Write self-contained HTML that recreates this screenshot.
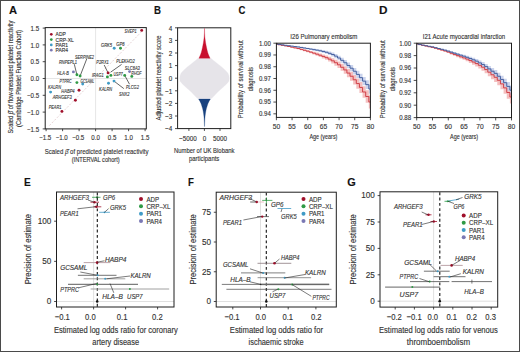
<!DOCTYPE html>
<html><head><meta charset="utf-8"><style>
html,body{margin:0;padding:0;background:#fff;}
body{width:520px;height:352px;overflow:hidden;position:relative;}
svg{position:absolute;left:0;top:0;display:block;font-family:"Liberation Sans",sans-serif;}
text{stroke:#3a3a3a;stroke-width:0.14px;}
.frame{position:absolute;left:0;top:0;width:518px;height:350px;border:1px solid #4a4a4a;}
</style></head><body>
<svg width="520" height="352" viewBox="0 0 520 352" fill="#303030">
<text x="9.00" y="13.70" font-size="11.3" font-weight="bold" fill="#111" textLength="8.10" lengthAdjust="spacingAndGlyphs">A</text>
<text x="154.00" y="14.00" font-size="11.3" font-weight="bold" fill="#111" textLength="7.00" lengthAdjust="spacingAndGlyphs">B</text>
<text x="238.50" y="14.00" font-size="11.3" font-weight="bold" fill="#111" textLength="6.90" lengthAdjust="spacingAndGlyphs">C</text>
<text x="379.00" y="13.80" font-size="11.3" font-weight="bold" fill="#111" textLength="8.50" lengthAdjust="spacingAndGlyphs">D</text>
<text x="23.90" y="185.90" font-size="11.3" font-weight="bold" fill="#111" textLength="6.80" lengthAdjust="spacingAndGlyphs">E</text>
<text x="188.00" y="185.70" font-size="11.3" font-weight="bold" fill="#111" textLength="5.90" lengthAdjust="spacingAndGlyphs">F</text>
<text x="347.20" y="185.80" font-size="11.3" font-weight="bold" fill="#111" textLength="8.50" lengthAdjust="spacingAndGlyphs">G</text>
<line x1="45.20" y1="78.50" x2="146.30" y2="78.50" stroke="#d4d4d4" stroke-width="0.6" />
<line x1="95.60" y1="27.60" x2="95.60" y2="128.90" stroke="#d4d4d4" stroke-width="0.6" />
<line x1="49.40" y1="125.54" x2="141.14" y2="32.13" stroke="#e0cbce" stroke-width="0.85" stroke-dasharray="2 1.6"/>
<rect x="45.20" y="27.60" width="101.10" height="101.30" fill="none" stroke="#1e1e1e" stroke-width="1.0"/>
<line x1="42.70" y1="28.10" x2="45.20" y2="28.10" stroke="#1e1e1e" stroke-width="0.8" />
<text x="39.10" y="30.87" font-size="7.50" text-anchor="end" textLength="8.55" lengthAdjust="spacingAndGlyphs">1.5</text>
<line x1="42.70" y1="44.90" x2="45.20" y2="44.90" stroke="#1e1e1e" stroke-width="0.8" />
<text x="39.10" y="47.67" font-size="7.50" text-anchor="end" textLength="8.55" lengthAdjust="spacingAndGlyphs">1.0</text>
<line x1="42.70" y1="61.70" x2="45.20" y2="61.70" stroke="#1e1e1e" stroke-width="0.8" />
<text x="39.10" y="64.47" font-size="7.50" text-anchor="end" textLength="8.55" lengthAdjust="spacingAndGlyphs">0.5</text>
<line x1="42.70" y1="78.50" x2="45.20" y2="78.50" stroke="#1e1e1e" stroke-width="0.8" />
<text x="39.10" y="81.27" font-size="7.50" text-anchor="end" textLength="8.55" lengthAdjust="spacingAndGlyphs">0.0</text>
<line x1="42.70" y1="95.30" x2="45.20" y2="95.30" stroke="#1e1e1e" stroke-width="0.8" />
<text x="39.10" y="98.07" font-size="7.50" text-anchor="end" textLength="12.14" lengthAdjust="spacingAndGlyphs">−0.5</text>
<line x1="42.70" y1="112.10" x2="45.20" y2="112.10" stroke="#1e1e1e" stroke-width="0.8" />
<text x="39.10" y="114.87" font-size="7.50" text-anchor="end" textLength="12.14" lengthAdjust="spacingAndGlyphs">−1.0</text>
<line x1="42.70" y1="128.90" x2="45.20" y2="128.90" stroke="#1e1e1e" stroke-width="0.8" />
<text x="39.10" y="131.68" font-size="7.50" text-anchor="end" textLength="12.14" lengthAdjust="spacingAndGlyphs">−1.5</text>
<line x1="46.10" y1="128.90" x2="46.10" y2="131.20" stroke="#1e1e1e" stroke-width="0.8" />
<text x="45.20" y="140.38" font-size="7.50" text-anchor="middle" textLength="12.14" lengthAdjust="spacingAndGlyphs">−1.5</text>
<line x1="62.60" y1="128.90" x2="62.60" y2="131.20" stroke="#1e1e1e" stroke-width="0.8" />
<text x="61.70" y="140.38" font-size="7.50" text-anchor="middle" textLength="12.14" lengthAdjust="spacingAndGlyphs">−1.0</text>
<line x1="79.10" y1="128.90" x2="79.10" y2="131.20" stroke="#1e1e1e" stroke-width="0.8" />
<text x="78.20" y="140.38" font-size="7.50" text-anchor="middle" textLength="12.14" lengthAdjust="spacingAndGlyphs">−0.5</text>
<line x1="95.60" y1="128.90" x2="95.60" y2="131.20" stroke="#1e1e1e" stroke-width="0.8" />
<text x="95.60" y="140.38" font-size="7.50" text-anchor="middle" textLength="8.55" lengthAdjust="spacingAndGlyphs">0.0</text>
<line x1="112.10" y1="128.90" x2="112.10" y2="131.20" stroke="#1e1e1e" stroke-width="0.8" />
<text x="112.10" y="140.38" font-size="7.50" text-anchor="middle" textLength="8.55" lengthAdjust="spacingAndGlyphs">0.5</text>
<line x1="128.60" y1="128.90" x2="128.60" y2="131.20" stroke="#1e1e1e" stroke-width="0.8" />
<text x="128.60" y="140.38" font-size="7.50" text-anchor="middle" textLength="8.55" lengthAdjust="spacingAndGlyphs">1.0</text>
<line x1="145.10" y1="128.90" x2="145.10" y2="131.20" stroke="#1e1e1e" stroke-width="0.8" />
<text x="145.10" y="140.38" font-size="7.50" text-anchor="middle" textLength="8.55" lengthAdjust="spacingAndGlyphs">1.5</text>
<text x="44.80" y="153.74" font-size="8.00" textLength="103.70" lengthAdjust="spacingAndGlyphs">Scaled <tspan font-style="italic">β̂</tspan> of predicted platelet reactivity</text>
<text x="71.70" y="162.46" font-size="7.47" textLength="48.00" lengthAdjust="spacingAndGlyphs">(INTERVAL cohort)</text>
<text transform="rotate(-90 10.60 77.00)" x="10.60" y="79.52" font-size="7.62" text-anchor="middle" textLength="113.00" lengthAdjust="spacingAndGlyphs">Scaled <tspan font-style="italic">β̂</tspan> of flow-measured platelet reactivity</text>
<text transform="rotate(-90 18.60 78.50)" x="18.60" y="81.05" font-size="7.73" text-anchor="middle" textLength="97.00" lengthAdjust="spacingAndGlyphs">(Cambridge Platelet Function Cohort)</text>
<circle cx="51.30" cy="34.30" r="1.35" fill="#a00f2a"/>
<text x="55.60" y="36.35" font-size="5.60" textLength="10.13" lengthAdjust="spacingAndGlyphs">ADP</text>
<circle cx="51.30" cy="39.60" r="1.35" fill="#2f9a45"/>
<text x="55.60" y="41.65" font-size="5.60" textLength="18.07" lengthAdjust="spacingAndGlyphs">CRP-XL</text>
<circle cx="51.30" cy="44.90" r="1.35" fill="#3f9bc6"/>
<text x="55.60" y="46.95" font-size="5.60" textLength="12.51" lengthAdjust="spacingAndGlyphs">PAR1</text>
<circle cx="51.30" cy="50.20" r="1.35" fill="#7a78b4"/>
<text x="55.60" y="52.25" font-size="5.60" textLength="12.51" lengthAdjust="spacingAndGlyphs">PAR4</text>
<line x1="74.30" y1="64.20" x2="76.90" y2="74.80" stroke="#222" stroke-width="0.7" />
<line x1="86.70" y1="59.00" x2="80.10" y2="76.00" stroke="#222" stroke-width="0.7" />
<line x1="104.20" y1="65.00" x2="107.90" y2="72.50" stroke="#222" stroke-width="0.7" />
<line x1="121.60" y1="64.40" x2="110.60" y2="72.20" stroke="#222" stroke-width="0.7" />
<line x1="124.70" y1="75.40" x2="129.50" y2="84.20" stroke="#222" stroke-width="0.7" />
<line x1="114.00" y1="81.10" x2="123.80" y2="88.60" stroke="#222" stroke-width="0.7" />
<circle cx="141.70" cy="30.40" r="1.45" fill="#a00f2a"/>
<circle cx="114.20" cy="48.30" r="1.45" fill="#3f9bc6"/>
<circle cx="120.50" cy="48.30" r="1.45" fill="#2f9a45"/>
<circle cx="73.40" cy="71.90" r="1.45" fill="#7a78b4"/>
<circle cx="76.90" cy="74.80" r="1.45" fill="#2f9a45"/>
<circle cx="80.10" cy="76.00" r="1.45" fill="#2f9a45"/>
<circle cx="76.90" cy="82.60" r="1.45" fill="#2f9a45"/>
<circle cx="82.70" cy="84.00" r="1.45" fill="#3f9bc6"/>
<circle cx="50.60" cy="92.10" r="1.45" fill="#3f9bc6"/>
<circle cx="79.00" cy="90.20" r="1.45" fill="#a00f2a"/>
<circle cx="75.40" cy="100.20" r="1.45" fill="#a00f2a"/>
<circle cx="61.90" cy="111.40" r="1.45" fill="#a00f2a"/>
<circle cx="108.10" cy="72.90" r="1.45" fill="#a00f2a"/>
<circle cx="107.40" cy="76.90" r="1.45" fill="#2f9a45"/>
<circle cx="110.90" cy="75.40" r="1.45" fill="#2f9a45"/>
<circle cx="108.50" cy="83.20" r="1.45" fill="#3f9bc6"/>
<circle cx="114.00" cy="81.10" r="1.45" fill="#3f9bc6"/>
<circle cx="124.70" cy="75.40" r="1.45" fill="#2f9a45"/>
<circle cx="131.80" cy="76.40" r="1.45" fill="#2f9a45"/>
<circle cx="129.60" cy="71.60" r="1.45" fill="#7a78b4"/>
<text x="124.60" y="33.42" font-size="5.20" font-style="italic" fill="#3a3a3a" textLength="12.10" lengthAdjust="spacingAndGlyphs">SVEP1</text>
<text x="101.00" y="46.82" font-size="5.20" font-style="italic" fill="#3a3a3a" textLength="11.00" lengthAdjust="spacingAndGlyphs">GRK5</text>
<text x="116.30" y="46.42" font-size="5.20" font-style="italic" fill="#3a3a3a" textLength="8.30" lengthAdjust="spacingAndGlyphs">GP6</text>
<text x="75.00" y="58.52" font-size="5.20" font-style="italic" fill="#3a3a3a" textLength="19.00" lengthAdjust="spacingAndGlyphs">SERPINE2</text>
<text x="59.00" y="63.72" font-size="5.20" font-style="italic" fill="#3a3a3a" textLength="18.00" lengthAdjust="spacingAndGlyphs">RNPEPL1</text>
<text x="57.30" y="75.22" font-size="5.20" font-style="italic" fill="#3a3a3a" textLength="11.50" lengthAdjust="spacingAndGlyphs">HLA-B</text>
<text x="59.60" y="83.22" font-size="5.20" font-style="italic" fill="#3a3a3a" textLength="12.10" lengthAdjust="spacingAndGlyphs">PTPRC</text>
<text x="80.50" y="82.82" font-size="5.20" font-style="italic" fill="#3a3a3a" textLength="13.50" lengthAdjust="spacingAndGlyphs">GCSAML</text>
<text x="48.00" y="88.72" font-size="5.20" font-style="italic" fill="#3a3a3a" textLength="13.00" lengthAdjust="spacingAndGlyphs">KALRN</text>
<text x="61.30" y="92.62" font-size="5.20" font-style="italic" fill="#3a3a3a" textLength="13.30" lengthAdjust="spacingAndGlyphs">HABP4</text>
<text x="52.70" y="98.92" font-size="5.20" font-style="italic" fill="#3a3a3a" textLength="19.00" lengthAdjust="spacingAndGlyphs">ARHGEF3</text>
<text x="48.70" y="108.72" font-size="5.20" font-style="italic" fill="#3a3a3a" textLength="12.60" lengthAdjust="spacingAndGlyphs">PEAR1</text>
<text x="96.30" y="63.72" font-size="5.20" font-style="italic" fill="#3a3a3a" textLength="12.50" lengthAdjust="spacingAndGlyphs">P2RX1</text>
<text x="116.30" y="63.42" font-size="5.20" font-style="italic" fill="#3a3a3a" textLength="18.40" lengthAdjust="spacingAndGlyphs">PLEKHO2</text>
<text x="92.00" y="76.72" font-size="5.20" font-style="italic" fill="#3a3a3a" textLength="11.60" lengthAdjust="spacingAndGlyphs">IRAG1</text>
<text x="113.60" y="75.72" font-size="5.20" font-style="italic" fill="#3a3a3a" textLength="9.00" lengthAdjust="spacingAndGlyphs">USP7</text>
<text x="124.70" y="69.52" font-size="5.20" font-style="italic" fill="#3a3a3a" textLength="15.20" lengthAdjust="spacingAndGlyphs">SLC6A3</text>
<text x="131.30" y="74.92" font-size="5.20" font-style="italic" fill="#3a3a3a" textLength="10.30" lengthAdjust="spacingAndGlyphs">RHOF</text>
<text x="126.00" y="89.32" font-size="5.20" font-style="italic" fill="#3a3a3a" textLength="12.80" lengthAdjust="spacingAndGlyphs">PLCG2</text>
<text x="99.00" y="90.72" font-size="5.20" font-style="italic" fill="#3a3a3a" textLength="13.20" lengthAdjust="spacingAndGlyphs">KALRN</text>
<text x="119.10" y="95.52" font-size="5.20" font-style="italic" fill="#3a3a3a" textLength="10.40" lengthAdjust="spacingAndGlyphs">SNX2</text>
<rect x="177.60" y="27.80" width="53.20" height="100.80" fill="none" stroke="#1e1e1e" stroke-width="1.0"/>
<line x1="175.00" y1="128.60" x2="177.60" y2="128.60" stroke="#1e1e1e" stroke-width="0.8" />
<text x="172.20" y="131.44" font-size="7.70" text-anchor="end" textLength="7.20" lengthAdjust="spacingAndGlyphs">−4</text>
<line x1="175.00" y1="116.00" x2="177.60" y2="116.00" stroke="#1e1e1e" stroke-width="0.8" />
<text x="172.20" y="118.84" font-size="7.70" text-anchor="end" textLength="7.20" lengthAdjust="spacingAndGlyphs">−3</text>
<line x1="175.00" y1="103.40" x2="177.60" y2="103.40" stroke="#1e1e1e" stroke-width="0.8" />
<text x="172.20" y="106.24" font-size="7.70" text-anchor="end" textLength="7.20" lengthAdjust="spacingAndGlyphs">−2</text>
<line x1="175.00" y1="90.80" x2="177.60" y2="90.80" stroke="#1e1e1e" stroke-width="0.8" />
<text x="172.20" y="93.64" font-size="7.70" text-anchor="end" textLength="7.20" lengthAdjust="spacingAndGlyphs">−1</text>
<line x1="175.00" y1="78.20" x2="177.60" y2="78.20" stroke="#1e1e1e" stroke-width="0.8" />
<text x="172.20" y="81.04" font-size="7.70" text-anchor="end" textLength="3.51" lengthAdjust="spacingAndGlyphs">0</text>
<line x1="175.00" y1="65.60" x2="177.60" y2="65.60" stroke="#1e1e1e" stroke-width="0.8" />
<text x="172.20" y="68.44" font-size="7.70" text-anchor="end" textLength="3.51" lengthAdjust="spacingAndGlyphs">1</text>
<line x1="175.00" y1="53.00" x2="177.60" y2="53.00" stroke="#1e1e1e" stroke-width="0.8" />
<text x="172.20" y="55.84" font-size="7.70" text-anchor="end" textLength="3.51" lengthAdjust="spacingAndGlyphs">2</text>
<line x1="175.00" y1="40.40" x2="177.60" y2="40.40" stroke="#1e1e1e" stroke-width="0.8" />
<text x="172.20" y="43.24" font-size="7.70" text-anchor="end" textLength="3.51" lengthAdjust="spacingAndGlyphs">3</text>
<line x1="175.00" y1="27.80" x2="177.60" y2="27.80" stroke="#1e1e1e" stroke-width="0.8" />
<text x="172.20" y="30.64" font-size="7.70" text-anchor="end" textLength="3.51" lengthAdjust="spacingAndGlyphs">4</text>
<line x1="188.90" y1="128.60" x2="188.90" y2="130.90" stroke="#1e1e1e" stroke-width="0.8" />
<text x="187.90" y="140.84" font-size="7.70" text-anchor="middle" textLength="17.73" lengthAdjust="spacingAndGlyphs">−5000</text>
<line x1="204.40" y1="128.60" x2="204.40" y2="130.90" stroke="#1e1e1e" stroke-width="0.8" />
<text x="204.40" y="140.84" font-size="7.70" text-anchor="middle" textLength="3.51" lengthAdjust="spacingAndGlyphs">0</text>
<line x1="220.00" y1="128.60" x2="220.00" y2="130.90" stroke="#1e1e1e" stroke-width="0.8" />
<text x="220.00" y="140.84" font-size="7.70" text-anchor="middle" textLength="14.05" lengthAdjust="spacingAndGlyphs">5000</text>
<text x="173.90" y="152.78" font-size="7.82" textLength="60.60" lengthAdjust="spacingAndGlyphs">Number of UK Biobank</text>
<text x="189.00" y="160.78" font-size="7.82" textLength="30.30" lengthAdjust="spacingAndGlyphs">participants</text>
<text transform="rotate(-90 158.20 78.00)" x="158.20" y="80.58" font-size="7.82" text-anchor="middle" textLength="85.00" lengthAdjust="spacingAndGlyphs">Adjusted platelet reactivity score</text>
<path d="M 211.10 58.40 L 213.50 60.50 L 216.00 62.50 L 219.10 64.90 L 222.30 67.50 L 225.50 70.40 L 227.80 73.00 L 228.90 75.50 L 229.30 78.30 L 228.90 81.20 L 226.80 83.80 L 223.60 86.70 L 220.50 89.50 L 217.50 92.20 L 214.70 95.20 L 211.50 98.60 L 197.50 98.60 L 194.30 95.20 L 191.50 92.20 L 188.50 89.50 L 185.40 86.70 L 182.20 83.80 L 180.10 81.20 L 179.70 78.30 L 180.10 75.50 L 181.20 73.00 L 183.50 70.40 L 186.70 67.50 L 189.90 64.90 L 193.00 62.50 L 195.50 60.50 L 197.90 58.40 Z" fill="#e6e4e9" stroke="#e6e4e9" stroke-width="0.3" stroke-linejoin="round"/>
<path d="M 204.53 28.40 L 204.62 33.00 L 204.85 37.00 L 205.30 40.50 L 205.65 43.00 L 206.10 45.30 L 206.60 47.80 L 207.15 50.20 L 207.80 52.70 L 208.60 55.00 L 209.30 56.60 L 210.10 58.30 L 198.90 58.30 L 199.70 56.60 L 200.40 55.00 L 201.20 52.70 L 201.85 50.20 L 202.40 47.80 L 202.90 45.30 L 203.35 43.00 L 203.70 40.50 L 204.15 37.00 L 204.38 33.00 L 204.47 28.40 Z" fill="#c8102e" stroke="#c8102e" stroke-width="0.3" stroke-linejoin="round"/>
<path d="M 210.40 99.00 L 209.10 101.20 L 207.90 103.70 L 207.10 106.20 L 206.40 108.60 L 205.85 111.00 L 205.45 113.40 L 205.10 116.00 L 204.90 118.20 L 204.75 121.00 L 204.62 124.00 L 204.55 126.50 L 204.45 126.50 L 204.38 124.00 L 204.25 121.00 L 204.10 118.20 L 203.90 116.00 L 203.55 113.40 L 203.15 111.00 L 202.60 108.60 L 201.90 106.20 L 201.10 103.70 L 199.90 101.20 L 198.60 99.00 Z" fill="#18427f" stroke="#18427f" stroke-width="0.3" stroke-linejoin="round"/>
<path d="M 276.40 43.90 H 277.97 V 44.46 H 281.10 V 45.00 H 284.23 V 45.52 H 287.37 V 46.07 H 290.50 V 46.67 H 293.63 V 47.26 H 296.77 V 47.84 H 299.90 V 48.58 H 303.03 V 49.34 H 306.17 V 50.08 H 309.30 V 50.88 H 312.43 V 51.74 H 315.57 V 52.59 H 318.70 V 53.46 H 321.83 V 54.45 H 324.97 V 55.43 H 328.10 V 56.73 H 331.23 V 58.15 H 334.37 V 59.79 H 337.50 V 61.58 H 340.63 V 63.80 H 343.77 V 66.14 H 346.90 V 68.98 H 350.03 V 71.82 H 353.17 V 75.02 H 356.30 V 78.48 H 359.43 V 82.00 H 362.57 V 86.15 H 365.70 V 90.29 H 368.83 V 95.40 H 370.40 V 108.60 H 368.83 V 102.71 H 365.70 V 97.80 H 362.57 V 92.91 H 359.43 V 88.68 H 356.30 V 84.54 H 353.17 V 80.66 H 350.03 V 77.19 H 346.90 V 73.73 H 343.77 V 70.80 H 340.63 V 68.02 H 337.50 V 65.68 H 334.37 V 63.52 H 331.23 V 61.61 H 328.10 V 59.85 H 324.97 V 58.43 H 321.83 V 57.02 H 318.70 V 55.76 H 315.57 V 54.55 H 312.43 V 53.35 H 309.30 V 52.24 H 306.17 V 51.22 H 303.03 V 50.21 H 299.90 V 49.23 H 296.77 V 48.45 H 293.63 V 47.69 H 290.50 V 46.94 H 287.37 V 46.28 H 284.23 V 45.67 H 281.10 V 45.08 H 277.97 V 44.50 H 276.40 Z" fill="#f3b8b8" opacity="0.9"/>
<path d="M 276.40 43.70 H 277.97 V 44.13 H 281.10 V 44.54 H 284.23 V 44.94 H 287.37 V 45.33 H 290.50 V 45.69 H 293.63 V 46.05 H 296.77 V 46.39 H 299.90 V 46.83 H 303.03 V 47.27 H 306.17 V 47.70 H 309.30 V 48.13 H 312.43 V 48.56 H 315.57 V 48.99 H 318.70 V 49.44 H 321.83 V 50.06 H 324.97 V 50.67 H 328.10 V 51.57 H 331.23 V 52.59 H 334.37 V 54.02 H 337.50 V 55.71 H 340.63 V 57.85 H 343.77 V 60.06 H 346.90 V 62.58 H 350.03 V 65.09 H 353.17 V 67.88 H 356.30 V 70.84 H 359.43 V 73.83 H 362.57 V 77.05 H 365.70 V 80.27 H 368.83 V 84.40 H 370.40 V 93.60 H 368.83 V 88.93 H 365.70 V 85.20 H 362.57 V 81.47 H 359.43 V 78.00 H 356.30 V 74.56 H 353.17 V 71.32 H 350.03 V 68.37 H 346.90 V 65.43 H 343.77 V 62.82 H 340.63 V 60.29 H 337.50 V 58.23 H 334.37 V 56.45 H 331.23 V 55.09 H 328.10 V 53.87 H 324.97 V 52.96 H 321.83 V 52.06 H 318.70 V 51.34 H 315.57 V 50.67 H 312.43 V 50.01 H 309.30 V 49.37 H 306.17 V 48.74 H 303.03 V 48.13 H 299.90 V 47.53 H 296.77 V 47.05 H 293.63 V 46.58 H 290.50 V 46.12 H 287.37 V 45.65 H 284.23 V 45.19 H 281.10 V 44.74 H 277.97 V 44.30 H 276.40 Z" fill="#c2cdea" opacity="0.85"/>
<path d="M 276.40 44.20 H 277.97 V 44.77 H 281.10 V 45.34 H 284.23 V 45.90 H 287.37 V 46.50 H 290.50 V 47.18 H 293.63 V 47.86 H 296.77 V 48.53 H 299.90 V 49.39 H 303.03 V 50.28 H 306.17 V 51.16 H 309.30 V 52.12 H 312.43 V 53.15 H 315.57 V 54.18 H 318.70 V 55.24 H 321.83 V 56.44 H 324.97 V 57.64 H 328.10 V 59.17 H 331.23 V 60.83 H 334.37 V 62.74 H 337.50 V 64.80 H 340.63 V 67.30 H 343.77 V 69.93 H 346.90 V 73.08 H 350.03 V 76.24 H 353.17 V 79.78 H 356.30 V 83.58 H 359.43 V 87.45 H 362.57 V 91.98 H 365.70 V 96.50 H 368.83 V 102.00 H 370.40" fill="none" stroke="#cf3a42" stroke-width="0.95"/>
<path d="M 276.40 44.00 H 277.97 V 44.43 H 281.10 V 44.86 H 284.23 V 45.30 H 287.37 V 45.72 H 290.50 V 46.14 H 293.63 V 46.55 H 296.77 V 46.96 H 299.90 V 47.48 H 303.03 V 48.01 H 306.17 V 48.54 H 309.30 V 49.07 H 312.43 V 49.62 H 315.57 V 50.16 H 318.70 V 50.75 H 321.83 V 51.51 H 324.97 V 52.27 H 328.10 V 53.33 H 331.23 V 54.52 H 334.37 V 56.12 H 337.50 V 58.00 H 340.63 V 60.33 H 343.77 V 62.75 H 346.90 V 65.48 H 350.03 V 68.21 H 353.17 V 71.22 H 356.30 V 74.42 H 359.43 V 77.65 H 362.57 V 81.12 H 365.70 V 84.60 H 368.83 V 89.00 H 370.40" fill="none" stroke="#3f5c9c" stroke-width="0.95"/>
<rect x="276.40" y="43.20" width="94.00" height="74.20" fill="none" stroke="#1e1e1e" stroke-width="1.0"/>
<line x1="273.40" y1="43.20" x2="276.40" y2="43.20" stroke="#1e1e1e" stroke-width="0.8" />
<text x="270.80" y="45.64" font-size="7.40" text-anchor="end" textLength="11.81" lengthAdjust="spacingAndGlyphs">1.00</text>
<line x1="273.40" y1="54.97" x2="276.40" y2="54.97" stroke="#1e1e1e" stroke-width="0.8" />
<text x="270.80" y="57.41" font-size="7.40" text-anchor="end" textLength="11.81" lengthAdjust="spacingAndGlyphs">0.99</text>
<line x1="273.40" y1="66.74" x2="276.40" y2="66.74" stroke="#1e1e1e" stroke-width="0.8" />
<text x="270.80" y="69.18" font-size="7.40" text-anchor="end" textLength="11.81" lengthAdjust="spacingAndGlyphs">0.98</text>
<line x1="273.40" y1="78.51" x2="276.40" y2="78.51" stroke="#1e1e1e" stroke-width="0.8" />
<text x="270.80" y="80.95" font-size="7.40" text-anchor="end" textLength="11.81" lengthAdjust="spacingAndGlyphs">0.97</text>
<line x1="273.40" y1="90.28" x2="276.40" y2="90.28" stroke="#1e1e1e" stroke-width="0.8" />
<text x="270.80" y="92.72" font-size="7.40" text-anchor="end" textLength="11.81" lengthAdjust="spacingAndGlyphs">0.96</text>
<line x1="273.40" y1="102.05" x2="276.40" y2="102.05" stroke="#1e1e1e" stroke-width="0.8" />
<text x="270.80" y="104.49" font-size="7.40" text-anchor="end" textLength="11.81" lengthAdjust="spacingAndGlyphs">0.95</text>
<line x1="273.40" y1="113.82" x2="276.40" y2="113.82" stroke="#1e1e1e" stroke-width="0.8" />
<text x="270.80" y="116.26" font-size="7.40" text-anchor="end" textLength="11.81" lengthAdjust="spacingAndGlyphs">0.94</text>
<line x1="276.40" y1="117.40" x2="276.40" y2="120.20" stroke="#1e1e1e" stroke-width="0.8" />
<text x="276.40" y="129.37" font-size="7.80" text-anchor="middle" textLength="7.46" lengthAdjust="spacingAndGlyphs">50</text>
<line x1="292.07" y1="117.40" x2="292.07" y2="120.20" stroke="#1e1e1e" stroke-width="0.8" />
<text x="292.07" y="129.37" font-size="7.80" text-anchor="middle" textLength="7.46" lengthAdjust="spacingAndGlyphs">55</text>
<line x1="307.73" y1="117.40" x2="307.73" y2="120.20" stroke="#1e1e1e" stroke-width="0.8" />
<text x="307.73" y="129.37" font-size="7.80" text-anchor="middle" textLength="7.46" lengthAdjust="spacingAndGlyphs">60</text>
<line x1="323.40" y1="117.40" x2="323.40" y2="120.20" stroke="#1e1e1e" stroke-width="0.8" />
<text x="323.40" y="129.37" font-size="7.80" text-anchor="middle" textLength="7.46" lengthAdjust="spacingAndGlyphs">65</text>
<line x1="339.07" y1="117.40" x2="339.07" y2="120.20" stroke="#1e1e1e" stroke-width="0.8" />
<text x="339.07" y="129.37" font-size="7.80" text-anchor="middle" textLength="7.46" lengthAdjust="spacingAndGlyphs">70</text>
<line x1="354.73" y1="117.40" x2="354.73" y2="120.20" stroke="#1e1e1e" stroke-width="0.8" />
<text x="354.73" y="129.37" font-size="7.80" text-anchor="middle" textLength="7.46" lengthAdjust="spacingAndGlyphs">75</text>
<line x1="370.40" y1="117.40" x2="370.40" y2="120.20" stroke="#1e1e1e" stroke-width="0.8" />
<text x="370.40" y="129.37" font-size="7.80" text-anchor="middle" textLength="7.46" lengthAdjust="spacingAndGlyphs">80</text>
<text x="309.40" y="139.36" font-size="7.15" textLength="28.00" lengthAdjust="spacingAndGlyphs">Age (years)</text>
<text x="290.30" y="38.86" font-size="8.05" textLength="67.10" lengthAdjust="spacingAndGlyphs">I26 Pulmonary embolism</text>
<text transform="rotate(-90 240.20 79.20)" x="240.20" y="81.83" font-size="7.98" text-anchor="middle" textLength="78.00" lengthAdjust="spacingAndGlyphs">Probability of survival without</text>
<text transform="rotate(-90 250.70 79.20)" x="250.70" y="81.67" font-size="7.50" text-anchor="middle" textLength="24.00" lengthAdjust="spacingAndGlyphs">diagnosis</text>
<path d="M 416.70 43.60 H 418.28 V 44.31 H 421.44 V 45.00 H 424.60 V 45.63 H 427.76 V 46.25 H 430.92 V 46.86 H 434.08 V 47.63 H 437.24 V 48.43 H 440.40 V 49.22 H 443.56 V 49.99 H 446.72 V 50.95 H 449.88 V 51.99 H 453.04 V 53.01 H 456.20 V 54.02 H 459.36 V 55.02 H 462.52 V 55.87 H 465.68 V 56.88 H 468.84 V 58.12 H 472.00 V 59.34 H 475.16 V 60.60 H 478.32 V 62.08 H 481.48 V 63.70 H 484.64 V 65.77 H 487.80 V 68.06 H 490.96 V 70.33 H 494.12 V 72.54 H 497.28 V 75.17 H 500.44 V 78.44 H 503.60 V 82.07 H 506.76 V 86.29 H 509.92 V 90.40 H 511.50 V 103.60 H 509.92 V 98.71 H 506.76 V 93.73 H 503.60 V 89.36 H 500.44 V 85.37 H 497.28 V 82.05 H 494.12 V 79.18 H 490.96 V 76.26 H 487.80 V 73.35 H 484.64 V 70.70 H 481.48 V 68.52 H 478.32 V 66.50 H 475.16 V 64.71 H 472.00 V 63.00 H 468.84 V 61.30 H 465.68 V 59.85 H 462.52 V 58.58 H 459.36 V 57.19 H 456.20 V 55.82 H 453.04 V 54.46 H 449.88 V 53.12 H 446.72 V 51.87 H 443.56 V 50.84 H 440.40 V 49.82 H 437.24 V 48.82 H 434.08 V 47.87 H 430.92 V 47.13 H 427.76 V 46.39 H 424.60 V 45.67 H 421.44 V 44.93 H 418.28 V 44.20 H 416.70 Z" fill="#f3b8b8" opacity="0.9"/>
<path d="M 416.70 43.50 H 418.28 V 44.16 H 421.44 V 44.79 H 424.60 V 45.35 H 427.76 V 45.90 H 430.92 V 46.44 H 434.08 V 47.16 H 437.24 V 47.92 H 440.40 V 48.67 H 443.56 V 49.41 H 446.72 V 50.28 H 449.88 V 51.20 H 453.04 V 52.10 H 456.20 V 53.00 H 459.36 V 53.89 H 462.52 V 54.75 H 465.68 V 55.70 H 468.84 V 56.79 H 472.00 V 57.87 H 475.16 V 59.04 H 478.32 V 60.61 H 481.48 V 62.08 H 484.64 V 63.91 H 487.80 V 66.02 H 490.96 V 68.10 H 494.12 V 70.03 H 497.28 V 72.69 H 500.44 V 75.63 H 503.60 V 78.63 H 506.76 V 82.07 H 509.92 V 85.60 H 511.50 V 94.80 H 509.92 V 90.73 H 506.76 V 86.77 H 503.60 V 83.27 H 500.44 V 79.84 H 497.28 V 76.71 H 494.12 V 74.33 H 490.96 V 71.81 H 487.80 V 69.28 H 484.64 V 67.04 H 481.48 V 65.19 H 478.32 V 63.26 H 475.16 V 61.73 H 472.00 V 60.31 H 468.84 V 58.90 H 465.68 V 57.65 H 462.52 V 56.51 H 459.36 V 55.36 H 456.20 V 54.21 H 453.04 V 53.08 H 449.88 V 51.95 H 446.72 V 50.89 H 443.56 V 49.97 H 440.40 V 49.06 H 437.24 V 48.17 H 434.08 V 47.33 H 430.92 V 46.69 H 427.76 V 46.06 H 424.60 V 45.44 H 421.44 V 44.77 H 418.28 V 44.10 H 416.70 Z" fill="#c2cdea" opacity="0.85"/>
<path d="M 416.70 43.90 H 418.28 V 44.62 H 421.44 V 45.34 H 424.60 V 46.01 H 427.76 V 46.69 H 430.92 V 47.36 H 434.08 V 48.22 H 437.24 V 49.12 H 440.40 V 50.03 H 443.56 V 50.93 H 446.72 V 52.03 H 449.88 V 53.23 H 453.04 V 54.42 H 456.20 V 55.61 H 459.36 V 56.80 H 462.52 V 57.86 H 465.68 V 59.09 H 468.84 V 60.56 H 472.00 V 62.03 H 475.16 V 63.55 H 478.32 V 65.30 H 481.48 V 67.20 H 484.64 V 69.56 H 487.80 V 72.16 H 490.96 V 74.75 H 494.12 V 77.29 H 497.28 V 80.27 H 500.44 V 83.90 H 503.60 V 87.90 H 506.76 V 92.50 H 509.92 V 97.00 H 511.50" fill="none" stroke="#cf3a42" stroke-width="0.95"/>
<path d="M 416.70 43.80 H 418.28 V 44.47 H 421.44 V 45.12 H 424.60 V 45.71 H 427.76 V 46.29 H 430.92 V 46.88 H 434.08 V 47.66 H 437.24 V 48.49 H 440.40 V 49.32 H 443.56 V 50.15 H 446.72 V 51.11 H 449.88 V 52.14 H 453.04 V 53.16 H 456.20 V 54.18 H 459.36 V 55.20 H 462.52 V 56.20 H 465.68 V 57.30 H 468.84 V 58.55 H 472.00 V 59.80 H 475.16 V 61.15 H 478.32 V 62.90 H 481.48 V 64.56 H 484.64 V 66.59 H 487.80 V 68.91 H 490.96 V 71.22 H 494.12 V 73.37 H 497.28 V 76.27 H 500.44 V 79.45 H 503.60 V 82.70 H 506.76 V 86.40 H 509.92 V 90.20 H 511.50" fill="none" stroke="#3f5c9c" stroke-width="0.95"/>
<rect x="416.70" y="43.20" width="94.80" height="74.40" fill="none" stroke="#1e1e1e" stroke-width="1.0"/>
<line x1="413.70" y1="43.20" x2="416.70" y2="43.20" stroke="#1e1e1e" stroke-width="0.8" />
<text x="411.10" y="45.64" font-size="7.40" text-anchor="end" textLength="11.81" lengthAdjust="spacingAndGlyphs">1.00</text>
<line x1="413.70" y1="55.60" x2="416.70" y2="55.60" stroke="#1e1e1e" stroke-width="0.8" />
<text x="411.10" y="58.04" font-size="7.40" text-anchor="end" textLength="11.81" lengthAdjust="spacingAndGlyphs">0.98</text>
<line x1="413.70" y1="68.00" x2="416.70" y2="68.00" stroke="#1e1e1e" stroke-width="0.8" />
<text x="411.10" y="70.44" font-size="7.40" text-anchor="end" textLength="11.81" lengthAdjust="spacingAndGlyphs">0.96</text>
<line x1="413.70" y1="80.40" x2="416.70" y2="80.40" stroke="#1e1e1e" stroke-width="0.8" />
<text x="411.10" y="82.84" font-size="7.40" text-anchor="end" textLength="11.81" lengthAdjust="spacingAndGlyphs">0.94</text>
<line x1="413.70" y1="92.80" x2="416.70" y2="92.80" stroke="#1e1e1e" stroke-width="0.8" />
<text x="411.10" y="95.24" font-size="7.40" text-anchor="end" textLength="11.81" lengthAdjust="spacingAndGlyphs">0.92</text>
<line x1="413.70" y1="105.20" x2="416.70" y2="105.20" stroke="#1e1e1e" stroke-width="0.8" />
<text x="411.10" y="107.64" font-size="7.40" text-anchor="end" textLength="11.81" lengthAdjust="spacingAndGlyphs">0.90</text>
<line x1="413.70" y1="117.60" x2="416.70" y2="117.60" stroke="#1e1e1e" stroke-width="0.8" />
<text x="411.10" y="120.04" font-size="7.40" text-anchor="end" textLength="11.81" lengthAdjust="spacingAndGlyphs">0.88</text>
<line x1="416.70" y1="117.60" x2="416.70" y2="120.40" stroke="#1e1e1e" stroke-width="0.8" />
<text x="416.70" y="129.37" font-size="7.80" text-anchor="middle" textLength="7.46" lengthAdjust="spacingAndGlyphs">50</text>
<line x1="432.50" y1="117.60" x2="432.50" y2="120.40" stroke="#1e1e1e" stroke-width="0.8" />
<text x="432.50" y="129.37" font-size="7.80" text-anchor="middle" textLength="7.46" lengthAdjust="spacingAndGlyphs">55</text>
<line x1="448.30" y1="117.60" x2="448.30" y2="120.40" stroke="#1e1e1e" stroke-width="0.8" />
<text x="448.30" y="129.37" font-size="7.80" text-anchor="middle" textLength="7.46" lengthAdjust="spacingAndGlyphs">60</text>
<line x1="464.10" y1="117.60" x2="464.10" y2="120.40" stroke="#1e1e1e" stroke-width="0.8" />
<text x="464.10" y="129.37" font-size="7.80" text-anchor="middle" textLength="7.46" lengthAdjust="spacingAndGlyphs">65</text>
<line x1="479.90" y1="117.60" x2="479.90" y2="120.40" stroke="#1e1e1e" stroke-width="0.8" />
<text x="479.90" y="129.37" font-size="7.80" text-anchor="middle" textLength="7.46" lengthAdjust="spacingAndGlyphs">70</text>
<line x1="495.70" y1="117.60" x2="495.70" y2="120.40" stroke="#1e1e1e" stroke-width="0.8" />
<text x="495.70" y="129.37" font-size="7.80" text-anchor="middle" textLength="7.46" lengthAdjust="spacingAndGlyphs">75</text>
<line x1="511.50" y1="117.60" x2="511.50" y2="120.40" stroke="#1e1e1e" stroke-width="0.8" />
<text x="511.50" y="129.37" font-size="7.80" text-anchor="middle" textLength="7.46" lengthAdjust="spacingAndGlyphs">80</text>
<text x="450.10" y="139.36" font-size="7.15" textLength="28.00" lengthAdjust="spacingAndGlyphs">Age (years)</text>
<text x="422.80" y="38.84" font-size="7.99" textLength="82.40" lengthAdjust="spacingAndGlyphs">I21 Acute myocardial infarction</text>
<text transform="rotate(-90 382.00 79.20)" x="382.00" y="81.83" font-size="7.98" text-anchor="middle" textLength="78.00" lengthAdjust="spacingAndGlyphs">Probability of survival without</text>
<text transform="rotate(-90 392.20 79.20)" x="392.20" y="81.67" font-size="7.50" text-anchor="middle" textLength="24.00" lengthAdjust="spacingAndGlyphs">diagnosis</text>
<line x1="93.60" y1="192.00" x2="93.60" y2="307.00" stroke="#d8d8d8" stroke-width="0.8" />
<line x1="56.50" y1="301.50" x2="174.00" y2="301.50" stroke="#d8d8d8" stroke-width="0.8" />
<line x1="97.30" y1="192.50" x2="97.30" y2="307.00" stroke="#111" stroke-width="1.1" stroke-dasharray="2.9 2.4"/>
<rect x="56.50" y="192.00" width="117.50" height="115.00" fill="none" stroke="#1e1e1e" stroke-width="1.0"/>
<line x1="54.10" y1="221.20" x2="56.50" y2="221.20" stroke="#1e1e1e" stroke-width="0.8" />
<text x="51.30" y="224.00" font-size="9.10" text-anchor="end" textLength="13.66" lengthAdjust="spacingAndGlyphs">100</text>
<line x1="54.10" y1="261.35" x2="56.50" y2="261.35" stroke="#1e1e1e" stroke-width="0.8" />
<text x="51.30" y="264.15" font-size="9.10" text-anchor="end" textLength="9.11" lengthAdjust="spacingAndGlyphs">50</text>
<line x1="54.10" y1="301.50" x2="56.50" y2="301.50" stroke="#1e1e1e" stroke-width="0.8" />
<text x="51.30" y="304.30" font-size="9.10" text-anchor="end" textLength="4.55" lengthAdjust="spacingAndGlyphs">0</text>
<line x1="61.60" y1="307.00" x2="61.60" y2="309.40" stroke="#1e1e1e" stroke-width="0.8" />
<text x="62.30" y="319.90" font-size="9.10" text-anchor="middle" textLength="15.09" lengthAdjust="spacingAndGlyphs">−0.1</text>
<line x1="93.60" y1="307.00" x2="93.60" y2="309.40" stroke="#1e1e1e" stroke-width="0.8" />
<text x="90.40" y="319.90" font-size="9.10" text-anchor="middle" textLength="10.63" lengthAdjust="spacingAndGlyphs">0.0</text>
<line x1="125.60" y1="307.00" x2="125.60" y2="309.40" stroke="#1e1e1e" stroke-width="0.8" />
<text x="122.10" y="319.90" font-size="9.10" text-anchor="middle" textLength="10.63" lengthAdjust="spacingAndGlyphs">0.1</text>
<line x1="157.60" y1="307.00" x2="157.60" y2="309.40" stroke="#1e1e1e" stroke-width="0.8" />
<text x="157.40" y="319.90" font-size="9.10" text-anchor="middle" textLength="10.63" lengthAdjust="spacingAndGlyphs">0.2</text>
<line x1="92.00" y1="197.30" x2="100.50" y2="197.30" stroke="#2f9a45" stroke-width="0.8" />
<circle cx="97.20" cy="197.30" r="1.1" fill="#1e5a2a"/>
<line x1="90.50" y1="202.20" x2="99.00" y2="202.20" stroke="#a00f2a" stroke-width="0.8" />
<circle cx="94.50" cy="202.20" r="1.2" fill="#a00f2a"/>
<line x1="93.60" y1="206.80" x2="101.30" y2="206.80" stroke="#a00f2a" stroke-width="0.8" />
<circle cx="96.40" cy="206.80" r="1.2" fill="#a00f2a"/>
<line x1="99.10" y1="212.30" x2="109.90" y2="212.30" stroke="#3f9bc6" stroke-width="0.8" />
<circle cx="104.50" cy="212.30" r="0.9" fill="#3f9bc6"/>
<line x1="83.70" y1="262.60" x2="110.30" y2="262.60" stroke="#b59aa0" stroke-width="0.9" />
<circle cx="97.10" cy="262.60" r="1.3" fill="#a00f2a"/>
<line x1="77.90" y1="275.30" x2="116.50" y2="275.30" stroke="#444" stroke-width="0.75" />
<circle cx="97.60" cy="275.30" r="1.0" fill="#3f9bc6"/>
<line x1="83.70" y1="278.80" x2="125.30" y2="278.80" stroke="#8a8a8a" stroke-width="0.8" />
<circle cx="105.20" cy="278.80" r="1.0" fill="#3f9bc6"/>
<line x1="68.00" y1="284.30" x2="138.00" y2="284.30" stroke="#333" stroke-width="0.8" />
<circle cx="97.10" cy="284.30" r="1.0" fill="#2f9a45"/>
<line x1="90.60" y1="289.00" x2="169.20" y2="289.00" stroke="#a0a0a0" stroke-width="1.0" />
<circle cx="129.90" cy="289.00" r="1.0" fill="#2f9a45"/>
<circle cx="97.20" cy="301.50" r="1.3" fill="#111"/>
<line x1="88.00" y1="200.00" x2="94.50" y2="202.30" stroke="#222" stroke-width="0.6" />
<line x1="77.50" y1="208.80" x2="96.00" y2="206.70" stroke="#222" stroke-width="0.6" />
<line x1="104.50" y1="212.30" x2="108.60" y2="208.60" stroke="#222" stroke-width="0.6" />
<line x1="104.50" y1="260.80" x2="97.00" y2="262.20" stroke="#222" stroke-width="0.6" />
<line x1="80.30" y1="272.00" x2="96.50" y2="275.10" stroke="#222" stroke-width="0.6" />
<line x1="130.00" y1="276.00" x2="106.50" y2="278.80" stroke="#222" stroke-width="0.6" />
<line x1="78.50" y1="287.80" x2="96.50" y2="283.50" stroke="#222" stroke-width="0.6" />
<line x1="113.80" y1="292.80" x2="110.00" y2="283.50" stroke="#222" stroke-width="0.6" />
<text x="59.90" y="199.75" font-size="6.50" font-style="italic" fill="#333" textLength="29.00" lengthAdjust="spacingAndGlyphs">ARHGEF3</text>
<text x="103.00" y="200.05" font-size="6.50" font-style="italic" fill="#333" textLength="12.00" lengthAdjust="spacingAndGlyphs">GP6</text>
<text x="59.90" y="216.25" font-size="6.50" font-style="italic" fill="#333" textLength="18.70" lengthAdjust="spacingAndGlyphs">PEAR1</text>
<text x="109.90" y="209.94" font-size="6.50" font-style="italic" fill="#333" textLength="16.10" lengthAdjust="spacingAndGlyphs">GRK5</text>
<text x="105.00" y="261.94" font-size="6.50" font-style="italic" fill="#333" textLength="21.40" lengthAdjust="spacingAndGlyphs">HABP4</text>
<text x="60.20" y="269.75" font-size="6.50" font-style="italic" fill="#333" textLength="27.00" lengthAdjust="spacingAndGlyphs">GCSAML</text>
<text x="130.40" y="278.05" font-size="6.50" font-style="italic" fill="#333" textLength="20.30" lengthAdjust="spacingAndGlyphs">KALRN</text>
<text x="60.20" y="292.35" font-size="6.50" font-style="italic" fill="#333" textLength="18.90" lengthAdjust="spacingAndGlyphs">PTPRC</text>
<text x="102.20" y="299.35" font-size="6.50" font-style="italic" fill="#333" textLength="20.80" lengthAdjust="spacingAndGlyphs">HLA–B</text>
<text x="127.10" y="299.35" font-size="6.50" font-style="italic" fill="#333" textLength="15.50" lengthAdjust="spacingAndGlyphs">USP7</text>
<circle cx="141.00" cy="199.00" r="2.0" fill="#a00f2a"/>
<text x="146.40" y="201.64" font-size="8.00" textLength="12.67" lengthAdjust="spacingAndGlyphs">ADP</text>
<circle cx="141.00" cy="206.35" r="2.0" fill="#2f9a45"/>
<text x="146.40" y="208.99" font-size="8.00" textLength="23.97" lengthAdjust="spacingAndGlyphs">CRP–XL</text>
<circle cx="141.00" cy="213.70" r="2.0" fill="#3f9bc6"/>
<text x="146.40" y="216.34" font-size="8.00" textLength="15.63" lengthAdjust="spacingAndGlyphs">PAR1</text>
<circle cx="141.00" cy="221.05" r="2.0" fill="#7a78b4"/>
<text x="146.40" y="223.69" font-size="8.00" textLength="15.63" lengthAdjust="spacingAndGlyphs">PAR4</text>
<text transform="rotate(-90 28.70 249.20)" x="28.70" y="251.90" font-size="8.18" text-anchor="middle" textLength="70.30" lengthAdjust="spacingAndGlyphs">Precision of estimate</text>
<text x="53.90" y="333.23" font-size="8.87" textLength="123.90" lengthAdjust="spacingAndGlyphs">Estimated log odds ratio for coronary</text>
<text x="92.30" y="344.78" font-size="8.72" textLength="46.80" lengthAdjust="spacingAndGlyphs">artery disease</text>
<line x1="260.50" y1="192.20" x2="260.50" y2="307.00" stroke="#d8d8d8" stroke-width="0.8" />
<line x1="216.20" y1="301.50" x2="336.30" y2="301.50" stroke="#d8d8d8" stroke-width="0.8" />
<line x1="266.30" y1="192.70" x2="266.30" y2="307.00" stroke="#111" stroke-width="1.1" stroke-dasharray="2.9 2.4"/>
<rect x="216.20" y="192.20" width="120.10" height="114.80" fill="none" stroke="#1e1e1e" stroke-width="1.0"/>
<line x1="213.80" y1="212.25" x2="216.20" y2="212.25" stroke="#1e1e1e" stroke-width="0.8" />
<text x="211.00" y="215.05" font-size="9.10" text-anchor="end" textLength="9.11" lengthAdjust="spacingAndGlyphs">75</text>
<line x1="213.80" y1="242.00" x2="216.20" y2="242.00" stroke="#1e1e1e" stroke-width="0.8" />
<text x="211.00" y="244.80" font-size="9.10" text-anchor="end" textLength="9.11" lengthAdjust="spacingAndGlyphs">50</text>
<line x1="213.80" y1="271.75" x2="216.20" y2="271.75" stroke="#1e1e1e" stroke-width="0.8" />
<text x="211.00" y="274.55" font-size="9.10" text-anchor="end" textLength="9.11" lengthAdjust="spacingAndGlyphs">25</text>
<line x1="213.80" y1="301.50" x2="216.20" y2="301.50" stroke="#1e1e1e" stroke-width="0.8" />
<text x="211.00" y="304.30" font-size="9.10" text-anchor="end" textLength="4.55" lengthAdjust="spacingAndGlyphs">0</text>
<line x1="232.80" y1="307.00" x2="232.80" y2="309.40" stroke="#1e1e1e" stroke-width="0.8" />
<text x="232.00" y="319.90" font-size="9.10" text-anchor="middle" textLength="15.09" lengthAdjust="spacingAndGlyphs">−0.1</text>
<line x1="260.50" y1="307.00" x2="260.50" y2="309.40" stroke="#1e1e1e" stroke-width="0.8" />
<text x="260.70" y="319.90" font-size="9.10" text-anchor="middle" textLength="10.63" lengthAdjust="spacingAndGlyphs">0.0</text>
<line x1="288.20" y1="307.00" x2="288.20" y2="309.40" stroke="#1e1e1e" stroke-width="0.8" />
<text x="287.80" y="319.90" font-size="9.10" text-anchor="middle" textLength="10.63" lengthAdjust="spacingAndGlyphs">0.1</text>
<line x1="315.90" y1="307.00" x2="315.90" y2="309.40" stroke="#1e1e1e" stroke-width="0.8" />
<text x="316.30" y="319.90" font-size="9.10" text-anchor="middle" textLength="10.63" lengthAdjust="spacingAndGlyphs">0.2</text>
<line x1="250.20" y1="202.00" x2="258.00" y2="202.00" stroke="#444" stroke-width="0.8" />
<line x1="258.00" y1="202.00" x2="263.90" y2="202.00" stroke="#e8b0b8" stroke-width="0.8" />
<circle cx="256.70" cy="202.00" r="1.2" fill="#a00f2a"/>
<line x1="262.20" y1="200.40" x2="272.40" y2="200.40" stroke="#2f9a45" stroke-width="0.8" />
<line x1="266.40" y1="197.40" x2="266.40" y2="203.60" stroke="#2f9a45" stroke-width="0.8" />
<line x1="277.50" y1="208.50" x2="291.20" y2="208.50" stroke="#3f9bc6" stroke-width="0.8" />
<line x1="257.00" y1="216.60" x2="269.00" y2="216.60" stroke="#555" stroke-width="0.8" />
<circle cx="262.20" cy="216.60" r="1.2" fill="#a00f2a"/>
<line x1="257.50" y1="263.30" x2="291.30" y2="263.30" stroke="#8a7a7e" stroke-width="0.8" />
<circle cx="274.50" cy="263.30" r="1.3" fill="#a00f2a"/>
<line x1="241.00" y1="272.90" x2="285.30" y2="272.90" stroke="#555" stroke-width="0.75" />
<circle cx="263.30" cy="272.90" r="1.0" fill="#3f9bc6"/>
<line x1="257.60" y1="277.70" x2="311.10" y2="277.70" stroke="#777" stroke-width="0.8" />
<circle cx="284.60" cy="277.70" r="1.0" fill="#3f9bc6"/>
<line x1="259.90" y1="284.40" x2="329.20" y2="284.40" stroke="#a8a8a8" stroke-width="1.7" />
<line x1="221.80" y1="284.40" x2="329.20" y2="284.40" stroke="#444" stroke-width="0.7" />
<circle cx="260.60" cy="284.40" r="0.7" fill="#333"/>
<line x1="226.40" y1="289.30" x2="331.50" y2="289.30" stroke="#444" stroke-width="0.7" />
<circle cx="278.40" cy="289.30" r="1.0" fill="#2f9a45"/>
<circle cx="292.20" cy="284.40" r="1.0" fill="#2f9a45"/>
<circle cx="266.30" cy="301.50" r="1.3" fill="#111"/>
<line x1="248.50" y1="198.00" x2="256.00" y2="201.60" stroke="#222" stroke-width="0.6" />
<line x1="243.40" y1="220.00" x2="261.50" y2="216.60" stroke="#222" stroke-width="0.6" />
<line x1="281.00" y1="212.00" x2="282.00" y2="208.80" stroke="#222" stroke-width="0.6" />
<line x1="279.50" y1="259.00" x2="274.80" y2="263.00" stroke="#222" stroke-width="0.6" />
<line x1="250.00" y1="268.80" x2="262.80" y2="273.00" stroke="#222" stroke-width="0.6" />
<line x1="305.00" y1="274.50" x2="284.50" y2="278.00" stroke="#222" stroke-width="0.6" />
<line x1="250.00" y1="281.80" x2="261.30" y2="284.50" stroke="#222" stroke-width="0.6" />
<line x1="292.00" y1="284.50" x2="311.30" y2="296.30" stroke="#222" stroke-width="0.6" />
<line x1="272.50" y1="291.80" x2="277.80" y2="289.20" stroke="#222" stroke-width="0.6" />
<text x="219.50" y="199.55" font-size="6.50" font-style="italic" fill="#333" textLength="32.50" lengthAdjust="spacingAndGlyphs">ARHGEF3</text>
<text x="271.00" y="207.05" font-size="6.50" font-style="italic" fill="#333" textLength="12.40" lengthAdjust="spacingAndGlyphs">GP6</text>
<text x="222.90" y="225.25" font-size="6.50" font-style="italic" fill="#333" textLength="19.00" lengthAdjust="spacingAndGlyphs">PEAR1</text>
<text x="281.10" y="218.65" font-size="6.50" font-style="italic" fill="#333" textLength="15.70" lengthAdjust="spacingAndGlyphs">GRK5</text>
<text x="281.00" y="260.35" font-size="6.50" font-style="italic" fill="#333" textLength="18.50" lengthAdjust="spacingAndGlyphs">HABP4</text>
<text x="222.90" y="266.55" font-size="6.50" font-style="italic" fill="#333" textLength="25.40" lengthAdjust="spacingAndGlyphs">GCSAML</text>
<text x="304.90" y="275.05" font-size="6.50" font-style="italic" fill="#333" textLength="20.80" lengthAdjust="spacingAndGlyphs">KALRN</text>
<text x="230.30" y="281.55" font-size="6.50" font-style="italic" fill="#333" textLength="20.30" lengthAdjust="spacingAndGlyphs">HLA–B</text>
<text x="269.60" y="298.14" font-size="6.50" font-style="italic" fill="#333" textLength="15.70" lengthAdjust="spacingAndGlyphs">USP7</text>
<text x="312.50" y="300.44" font-size="6.50" font-style="italic" fill="#333" textLength="17.10" lengthAdjust="spacingAndGlyphs">PTPRC</text>
<circle cx="303.50" cy="199.00" r="2.0" fill="#a00f2a"/>
<text x="308.90" y="201.64" font-size="8.00" textLength="12.67" lengthAdjust="spacingAndGlyphs">ADP</text>
<circle cx="303.50" cy="206.35" r="2.0" fill="#2f9a45"/>
<text x="308.90" y="208.99" font-size="8.00" textLength="23.97" lengthAdjust="spacingAndGlyphs">CRP–XL</text>
<circle cx="303.50" cy="213.70" r="2.0" fill="#3f9bc6"/>
<text x="308.90" y="216.34" font-size="8.00" textLength="15.63" lengthAdjust="spacingAndGlyphs">PAR1</text>
<circle cx="303.50" cy="221.05" r="2.0" fill="#7a78b4"/>
<text x="308.90" y="223.69" font-size="8.00" textLength="15.63" lengthAdjust="spacingAndGlyphs">PAR4</text>
<text transform="rotate(-90 193.60 249.40)" x="193.60" y="252.10" font-size="8.18" text-anchor="middle" textLength="70.30" lengthAdjust="spacingAndGlyphs">Precision of estimate</text>
<text x="229.80" y="333.26" font-size="8.96" textLength="93.20" lengthAdjust="spacingAndGlyphs">Estimated log odds ratio for</text>
<text x="248.60" y="344.76" font-size="8.66" textLength="55.10" lengthAdjust="spacingAndGlyphs">ischaemic stroke</text>
<line x1="433.60" y1="191.80" x2="433.60" y2="307.10" stroke="#d8d8d8" stroke-width="0.8" />
<line x1="380.00" y1="301.20" x2="497.70" y2="301.20" stroke="#d8d8d8" stroke-width="0.8" />
<line x1="439.80" y1="192.30" x2="439.80" y2="307.10" stroke="#111" stroke-width="1.1" stroke-dasharray="2.9 2.4"/>
<rect x="380.00" y="191.80" width="117.70" height="115.30" fill="none" stroke="#1e1e1e" stroke-width="1.0"/>
<line x1="377.60" y1="195.60" x2="380.00" y2="195.60" stroke="#1e1e1e" stroke-width="0.8" />
<text x="374.80" y="198.40" font-size="9.10" text-anchor="end" textLength="13.66" lengthAdjust="spacingAndGlyphs">100</text>
<line x1="377.60" y1="222.00" x2="380.00" y2="222.00" stroke="#1e1e1e" stroke-width="0.8" />
<text x="374.80" y="224.80" font-size="9.10" text-anchor="end" textLength="9.11" lengthAdjust="spacingAndGlyphs">75</text>
<line x1="377.60" y1="248.40" x2="380.00" y2="248.40" stroke="#1e1e1e" stroke-width="0.8" />
<text x="374.80" y="251.20" font-size="9.10" text-anchor="end" textLength="9.11" lengthAdjust="spacingAndGlyphs">50</text>
<line x1="377.60" y1="274.80" x2="380.00" y2="274.80" stroke="#1e1e1e" stroke-width="0.8" />
<text x="374.80" y="277.60" font-size="9.10" text-anchor="end" textLength="9.11" lengthAdjust="spacingAndGlyphs">25</text>
<line x1="377.60" y1="301.20" x2="380.00" y2="301.20" stroke="#1e1e1e" stroke-width="0.8" />
<text x="374.80" y="304.00" font-size="9.10" text-anchor="end" textLength="4.55" lengthAdjust="spacingAndGlyphs">0</text>
<line x1="395.20" y1="307.10" x2="395.20" y2="309.50" stroke="#1e1e1e" stroke-width="0.8" />
<text x="394.30" y="319.90" font-size="9.10" text-anchor="middle" textLength="15.09" lengthAdjust="spacingAndGlyphs">−0.2</text>
<line x1="414.40" y1="307.10" x2="414.40" y2="309.50" stroke="#1e1e1e" stroke-width="0.8" />
<text x="414.10" y="319.90" font-size="9.10" text-anchor="middle" textLength="15.09" lengthAdjust="spacingAndGlyphs">−0.1</text>
<line x1="433.60" y1="307.10" x2="433.60" y2="309.50" stroke="#1e1e1e" stroke-width="0.8" />
<text x="432.80" y="319.90" font-size="9.10" text-anchor="middle" textLength="10.63" lengthAdjust="spacingAndGlyphs">0.0</text>
<line x1="452.80" y1="307.10" x2="452.80" y2="309.50" stroke="#1e1e1e" stroke-width="0.8" />
<text x="451.70" y="319.90" font-size="9.10" text-anchor="middle" textLength="10.63" lengthAdjust="spacingAndGlyphs">0.1</text>
<line x1="472.00" y1="307.10" x2="472.00" y2="309.50" stroke="#1e1e1e" stroke-width="0.8" />
<text x="471.70" y="319.90" font-size="9.10" text-anchor="middle" textLength="10.63" lengthAdjust="spacingAndGlyphs">0.2</text>
<line x1="491.20" y1="307.10" x2="491.20" y2="309.50" stroke="#1e1e1e" stroke-width="0.8" />
<text x="490.60" y="319.90" font-size="9.10" text-anchor="middle" textLength="10.63" lengthAdjust="spacingAndGlyphs">0.3</text>
<line x1="446.70" y1="201.30" x2="459.20" y2="199.20" stroke="#3f9bc6" stroke-width="0.8" />
<line x1="444.50" y1="201.30" x2="450.50" y2="201.30" stroke="#2f9a45" stroke-width="0.8" />
<circle cx="447.70" cy="201.30" r="0.9" fill="#2f9a45"/>
<line x1="425.50" y1="214.80" x2="431.50" y2="214.80" stroke="#a00f2a" stroke-width="0.8" />
<circle cx="428.50" cy="214.80" r="1.2" fill="#a00f2a"/>
<line x1="430.50" y1="221.50" x2="437.00" y2="221.50" stroke="#a00f2a" stroke-width="0.8" />
<circle cx="433.80" cy="221.50" r="1.2" fill="#a00f2a"/>
<line x1="440.50" y1="265.40" x2="462.70" y2="265.40" stroke="#b59aa0" stroke-width="0.9" />
<circle cx="451.60" cy="265.40" r="1.3" fill="#a00f2a"/>
<line x1="423.90" y1="271.20" x2="449.70" y2="271.20" stroke="#444" stroke-width="0.75" />
<circle cx="437.70" cy="271.20" r="1.0" fill="#3f9bc6"/>
<line x1="433.60" y1="276.70" x2="465.50" y2="276.70" stroke="#444" stroke-width="0.75" />
<circle cx="449.30" cy="276.70" r="1.0" fill="#3f9bc6"/>
<line x1="410.00" y1="281.60" x2="449.30" y2="281.60" stroke="#444" stroke-width="0.75" />
<circle cx="429.70" cy="281.60" r="1.0" fill="#2f9a45"/>
<line x1="451.60" y1="281.60" x2="492.00" y2="281.60" stroke="#444" stroke-width="0.75" />
<line x1="471.90" y1="279.60" x2="471.90" y2="283.60" stroke="#444" stroke-width="0.7" />
<line x1="385.10" y1="287.10" x2="440.00" y2="287.10" stroke="#333" stroke-width="0.75" />
<circle cx="412.30" cy="287.10" r="1.0" fill="#2f9a45"/>
<circle cx="439.70" cy="301.20" r="1.3" fill="#111"/>
<line x1="421.70" y1="212.00" x2="428.00" y2="214.80" stroke="#222" stroke-width="0.6" />
<line x1="421.70" y1="224.50" x2="433.50" y2="221.50" stroke="#222" stroke-width="0.6" />
<line x1="462.50" y1="197.50" x2="456.00" y2="199.80" stroke="#222" stroke-width="0.6" />
<line x1="454.00" y1="203.50" x2="448.00" y2="201.30" stroke="#222" stroke-width="0.6" />
<line x1="460.00" y1="260.50" x2="451.80" y2="265.30" stroke="#222" stroke-width="0.6" />
<line x1="429.80" y1="264.50" x2="436.30" y2="270.80" stroke="#222" stroke-width="0.6" />
<line x1="460.80" y1="273.70" x2="450.00" y2="277.00" stroke="#222" stroke-width="0.6" />
<line x1="419.50" y1="278.50" x2="429.50" y2="281.80" stroke="#222" stroke-width="0.6" />
<text x="393.90" y="209.34" font-size="6.50" font-style="italic" fill="#333" textLength="28.80" lengthAdjust="spacingAndGlyphs">ARHGEF3</text>
<text x="403.10" y="227.34" font-size="6.50" font-style="italic" fill="#333" textLength="19.60" lengthAdjust="spacingAndGlyphs">PEAR1</text>
<text x="464.30" y="199.25" font-size="6.50" font-style="italic" fill="#333" textLength="17.30" lengthAdjust="spacingAndGlyphs">GRK5</text>
<text x="453.40" y="209.34" font-size="6.50" font-style="italic" fill="#333" textLength="10.90" lengthAdjust="spacingAndGlyphs">GP6</text>
<text x="455.00" y="260.55" font-size="6.50" font-style="italic" fill="#333" textLength="20.10" lengthAdjust="spacingAndGlyphs">HABP4</text>
<text x="404.20" y="265.14" font-size="6.50" font-style="italic" fill="#333" textLength="27.80" lengthAdjust="spacingAndGlyphs">GCSAML</text>
<text x="462.70" y="273.94" font-size="6.50" font-style="italic" fill="#333" textLength="21.20" lengthAdjust="spacingAndGlyphs">KALRN</text>
<text x="399.60" y="278.94" font-size="6.50" font-style="italic" fill="#333" textLength="18.50" lengthAdjust="spacingAndGlyphs">PTPRC</text>
<text x="399.60" y="297.44" font-size="6.50" font-style="italic" fill="#333" textLength="18.50" lengthAdjust="spacingAndGlyphs">USP7</text>
<text x="464.30" y="294.44" font-size="6.50" font-style="italic" fill="#333" textLength="19.60" lengthAdjust="spacingAndGlyphs">HLA–B</text>
<circle cx="463.70" cy="215.40" r="2.0" fill="#a00f2a"/>
<text x="469.10" y="218.04" font-size="8.00" textLength="12.67" lengthAdjust="spacingAndGlyphs">ADP</text>
<circle cx="463.70" cy="222.70" r="2.0" fill="#2f9a45"/>
<text x="469.10" y="225.34" font-size="8.00" textLength="23.97" lengthAdjust="spacingAndGlyphs">CRP–XL</text>
<circle cx="463.70" cy="230.00" r="2.0" fill="#3f9bc6"/>
<text x="469.10" y="232.64" font-size="8.00" textLength="15.63" lengthAdjust="spacingAndGlyphs">PAR1</text>
<circle cx="463.70" cy="237.30" r="2.0" fill="#7a78b4"/>
<text x="469.10" y="239.94" font-size="8.00" textLength="15.63" lengthAdjust="spacingAndGlyphs">PAR4</text>
<text transform="rotate(-90 353.60 249.40)" x="353.60" y="252.10" font-size="8.18" text-anchor="middle" textLength="70.30" lengthAdjust="spacingAndGlyphs">Precision of estimate</text>
<text x="379.00" y="333.23" font-size="8.87" textLength="118.80" lengthAdjust="spacingAndGlyphs">Estimated log odds ratio for venous</text>
<text x="406.80" y="344.98" font-size="9.33" textLength="63.40" lengthAdjust="spacingAndGlyphs">thromboembolism</text>
</svg>
<div class="frame"></div>
</body></html>
